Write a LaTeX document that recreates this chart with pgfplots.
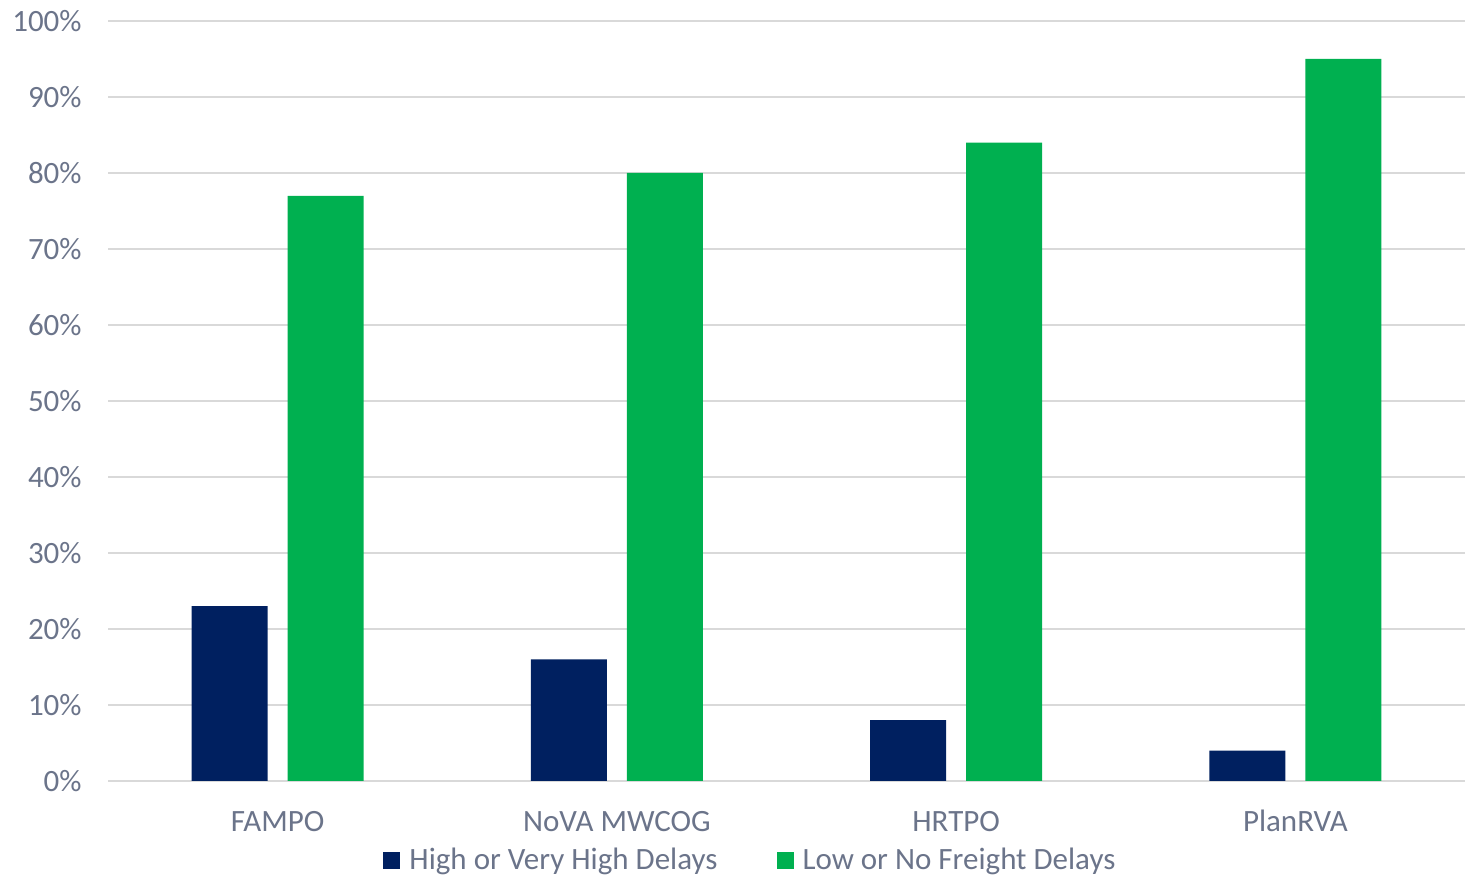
\documentclass[border=0pt]{standalone}
\usepackage{fontspec}
\setmainfont{Carlito}
\usepackage{pgfplots}
\pgfplotsset{compat=1.18}
\definecolor{navy}{RGB}{0,32,96}
\definecolor{fgreen}{RGB}{0,176,80}
\definecolor{txt}{RGB}{107,116,138}
\definecolor{gridc}{RGB}{217,217,217}
\begin{document}
\begin{tikzpicture}
\path[use as bounding box] (0,0) rectangle (735pt,438pt);
\begin{axis}[
  at={(54pt,47.5pt)}, anchor=south west,
  scale only axis, width=678.5pt, height=380pt,
  xmin=-0.5, xmax=3.5, ymin=0, ymax=100,
  ybar=10pt, bar width=38pt,
  axis line style={draw=none},
  ymajorgrids, grid style={gridc, line width=1pt},
  ytick={0,10,...,100},
  yticklabels={0\%,10\%,20\%,30\%,40\%,50\%,60\%,70\%,80\%,90\%,100\%},
  xtick={0,1,2,3},
  xticklabels={FAMPO,NoVA MWCOG,HRTPO,PlanRVA},
  major tick length=0pt,
  tick label style={font=\fontsize{15.5}{18}\selectfont, text=txt},
  yticklabel style={inner sep=0pt, anchor=east, xshift=-13pt},
  xticklabel style={inner sep=0pt, anchor=base, yshift=-25.5pt},
  legend style={at={(0.476,-0.104)}, anchor=center, draw=none, fill=none,
    legend columns=2, font=\fontsize{15.5}{18}\selectfont, text=txt,
    nodes={inner xsep=4.5pt},
    /tikz/every even column/.append style={column sep=25pt}},
  legend image code/.code={\fill[#1] (0pt,-4.25pt) rectangle (8.5pt,4.25pt);},
  clip=false,
]
\draw[gridc, line width=1pt] (rel axis cs:0,0) -- (rel axis cs:1,0);
\addplot[fill=navy, draw=none] coordinates {(0,23) (1,16) (2,8) (3,4)};
\addplot[fill=fgreen, draw=none] coordinates {(0,77) (1,80) (2,84) (3,95)};
\legend{High or Very High Delays, Low or No Freight Delays}
\end{axis}
\end{tikzpicture}
\end{document}
